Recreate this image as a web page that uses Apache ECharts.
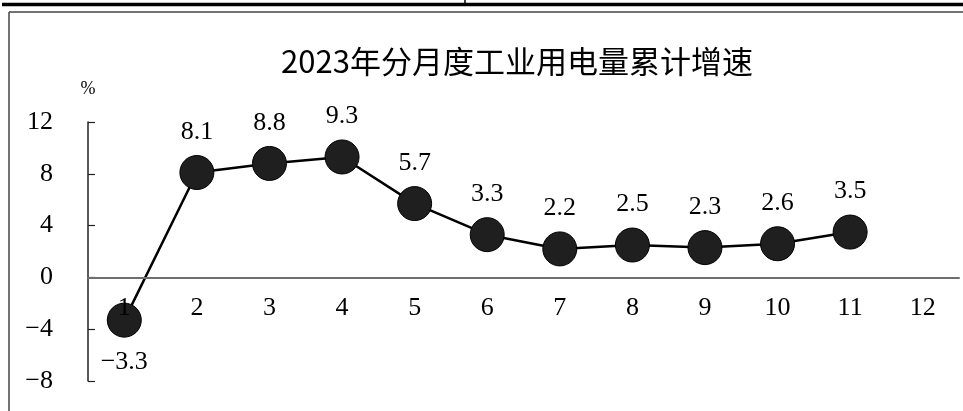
<!DOCTYPE html>
<html>
<head>
<meta charset="utf-8">
<script src="https://cdn.jsdelivr.net/npm/echarts@6/dist/echarts.min.js"></script>
<style>
html,body{margin:0;padding:0;background:#fff;}
#c{width:963px;height:411px;}
</style>
</head>
<body>
<div id="c"></div>
<script>
var months = ['1','2','3','4','5','6','7','8','9','10','11','12'];
var growth = [-3.3, 8.1, 8.8, 9.3, 5.7, 3.3, 2.2, 2.5, 2.3, 2.6, 3.5];
var titleText = '2023年分月度工业用电量累计增速';
var unitText = '%';

function fmtNum(v){ return String(v).replace('-', '\u2212'); }

var chart = echarts.init(document.getElementById('c'));
var serif = 'Liberation Serif';
chart.setOption({
  backgroundColor: '#fff',
  animation: false,
  title: {
    text: titleText,
    left: 512, top: 41, textAlign: 'center',
    textStyle: {fontFamily: 'Noto Sans CJK SC', fontSize: 31, fontWeight: 'normal', color: '#000'}
  },
  grid: {left: 88, right: 4, top: 122, bottom: 30, outerBoundsMode: 'none', containLabel: false},
  xAxis: {
    type: 'category', data: months, boundaryGap: true, z: 10,
    axisLine: {onZero: true, lineStyle: {color: '#6e6e6e', width: 2}},
    axisTick: {inside: true, length: 6, lineStyle: {color: '#333', width: 1.2}},
    axisLabel: {margin: -86, fontFamily: serif, fontSize: 26, color: '#000'},
    splitLine: {show: false}
  },
  yAxis: {
    type: 'value', min: -8, max: 12, interval: 4,
    name: unitText, nameLocation: 'end', nameGap: 24,
    nameTextStyle: {fontFamily: serif, fontSize: 18, color: '#000', align: 'center'},
    axisLine: {show: true, lineStyle: {color: '#222', width: 1.5}},
    axisTick: {show: true, inside: true, length: 7, lineStyle: {color: '#222', width: 1.2}},
    axisLabel: {margin: 35, fontFamily: serif, fontSize: 26, color: '#000', formatter: fmtNum},
    splitLine: {show: false}
  },
  graphic: [
    {type: 'line', shape: {x1: 2, y1: 4.5, x2: 963, y2: 4.5}, style: {stroke: '#000', lineWidth: 3.5}},
    {type: 'line', shape: {x1: 465, y1: 0, x2: 465, y2: 6}, style: {stroke: '#000', lineWidth: 1.5}},
    {type: 'line', shape: {x1: 9, y1: 12, x2: 963, y2: 12}, style: {stroke: '#444', lineWidth: 1.5}},
    {type: 'line', shape: {x1: 9, y1: 12, x2: 9, y2: 411}, style: {stroke: '#444', lineWidth: 1.5}}
  ],
  series: [{
    type: 'line', data: growth.map(function(v){
      return v < 0 ? {value: v, label: {position: 'bottom', distance: 12}} : v;
    }),
    symbol: 'circle', symbolSize: 34,
    lineStyle: {color: '#000', width: 2.5},
    itemStyle: {color: '#1f1f1f', borderColor: '#000', borderWidth: 1},
    label: {show: true, position: 'top', distance: 10, fontFamily: serif, fontSize: 26, color: '#000',
      formatter: function(p){ return fmtNum(p.value); }},
    z: 3
  }]
});
</script>
</body>
</html>
